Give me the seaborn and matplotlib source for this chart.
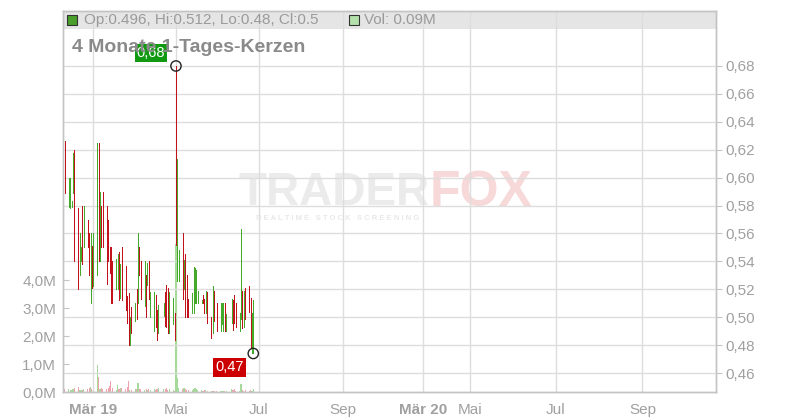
import pandas as pd
import matplotlib.pyplot as plt
import seaborn as sns
from matplotlib.patches import Rectangle

# Kursdaten (Tageskerzen, Hoch/Tief) und Volumen in Mio.
highs = [0.626, 0.600, 0.600, 0.583, 0.618, 0.620, 0.578, 0.560, 0.550, 0.580,
         0.580, 0.570, 0.560, 0.560, 0.551, 0.560, 0.625, 0.625, 0.590, 0.580,
         0.590, 0.580, 0.570, 0.550, 0.550, 0.540, 0.542, 0.545, 0.547, 0.538,
         0.550, 0.537, 0.515, 0.517, 0.500, 0.507, 0.510, 0.520, 0.560, 0.550,
         0.540, 0.540, 0.530, 0.539, 0.540, 0.518, 0.518, 0.516, 0.505, 0.509,
         0.510, 0.518, 0.523, 0.521, 0.518, 0.514, 0.503, 0.680, 0.613, 0.548,
         0.560, 0.541, 0.545, 0.530, 0.513, 0.517, 0.536, 0.535, 0.534, 0.519,
         0.512, 0.516, 0.513, 0.519, 0.518, 0.500, 0.522, 0.519, 0.510, 0.510,
         0.510, 0.510, 0.510, 0.502, 0.513, 0.512, 0.516, 0.510, 0.503, 0.563,
         0.519, 0.519, 0.521, 0.522, 0.514, 0.503, 0.512]
lows = [0.589, 0.579, 0.578, 0.579, 0.589, 0.540, 0.520, 0.530, 0.540, 0.538,
        0.550, 0.550, 0.530, 0.510, 0.521, 0.522, 0.530, 0.540, 0.540, 0.550,
        0.550, 0.524, 0.540, 0.532, 0.510, 0.510, 0.520, 0.520, 0.512, 0.514,
        0.512, 0.505, 0.496, 0.480, 0.480, 0.489, 0.497, 0.499, 0.510, 0.530,
        0.513, 0.508, 0.500, 0.523, 0.513, 0.500, 0.490, 0.493, 0.484, 0.489,
        0.501, 0.494, 0.493, 0.489, 0.489, 0.495, 0.484, 0.552, 0.526, 0.526,
        0.513, 0.520, 0.500, 0.500, 0.500, 0.503, 0.503, 0.510, 0.510, 0.510,
        0.510, 0.510, 0.503, 0.503, 0.496, 0.485, 0.489, 0.497, 0.490, 0.490,
        0.495, 0.490, 0.490, 0.490, 0.496, 0.491, 0.496, 0.493, 0.490, 0.499,
        0.492, 0.493, 0.499, 0.504, 0.479, 0.474, 0.474]
# g = steigend, r = fallend
richtung = ("rggggrrggr" "grrgrggrgr" "rrrrrrggrg" "rrrrgrgrgr" "rgrgrggrrg"
            "grrrggrrgg" "rgrrrggggg" "grrgrrgrrg" "ggrggrrrgg" "rgrrrgg")
vol_richtung = richtung[:57] + "g" + richtung[58:]
volumen = [0.10, 0.12, 0.07, 0.08, 0.09, 0.16, 0.18, 0.06, 0.06, 0.07,
           0.12, 0.09, 0.14, 0.19, 0.12, 0.05, 0.96, 0.52, 0.12, 0.14,
           0.09, 0.09, 0.14, 0.20, 0.39, 0.14, 0.07, 0.26, 0.09, 0.14,
           0.16, 0.12, 0.19, 0.39, 0.08, 0.07, 0.09, 0.12, 0.31, 0.12,
           0.09, 0.08, 0.12, 0.08, 0.09, 0.07, 0.12, 0.07, 0.12, 0.14,
           0.09, 0.12, 0.14, 0.08, 0.12, 0.07, 0.05, 5.30, 0.49, 0.16,
           0.12, 0.14, 0.09, 0.08, 0.07, 0.07, 0.09, 0.14, 0.09, 0.07,
           0.08, 0.05, 0.06, 0.06, 0.05, 0.04, 0.05, 0.04, 0.05, 0.04,
           0.03, 0.04, 0.03, 0.05, 0.12, 0.06, 0.09, 0.04, 0.05, 0.27,
           0.06, 0.04, 0.08, 0.05, 0.06, 0.04, 0.12]
feiertage = ['2019-04-19', '2019-05-30', '2019-06-10']

# Achsenbeschriftung (Tage ab 1. Maerz 2019)
tick_tage = [0, 61, 122, 184, 243, 278, 341, 405]
tick_labels = ['Mär 19', 'Mai', 'Jul', 'Sep', 'Mär 20', 'Mai', 'Jul', 'Sep']
preis_ticks = [0.46, 0.48, 0.50, 0.52, 0.54, 0.56, 0.58, 0.60, 0.62, 0.64, 0.66, 0.68]
vol_ticks = [0, 1, 2, 3, 4]

daten = pd.bdate_range('2019-02-08', '2019-06-27')
daten = daten[~daten.isin(pd.to_datetime(feiertage))]
df = pd.DataFrame({'datum': daten, 'hoch': highs, 'tief': lows,
                   'dir': list(richtung), 'vol': volumen, 'vdir': list(vol_richtung)})
df['tag'] = (df['datum'] - pd.Timestamp('2019-03-01')).dt.days

sns.set_style('white')
plt.rcParams['font.family'] = ['Liberation Sans', 'DejaVu Sans']

GRUEN, ROT = '#44a829', '#c2121b'
HGRUEN, HROT = '#a6da9b', '#f0a3ae'
GRAU = '#a0a0a0'
RAHMEN = '#c4c4c4'

fig = plt.figure(figsize=(8, 4.2), dpi=100)
ax = fig.add_axes([63 / 800, 28 / 420, 653 / 800, 381 / 420])
ax2 = ax.twinx()

# Volumen (linke Achse)
ax.bar(df['tag'], df['vol'], width=0.9, linewidth=0, edgecolor='none',
       color=[HGRUEN if d == 'g' else HROT for d in df['vdir']], zorder=2)
ax.set_ylim(0, 381 / 27.9)
ax.set_xlim(-22.3, 459.2)
ax.set_yticks(vol_ticks)
ax.set_yticklabels([f'{v:.1f}M'.replace('.', ',') for v in vol_ticks])
ax.set_xticks(tick_tage)
ax.set_xticklabels(tick_labels)
for lab in ax.get_xticklabels():
    if lab.get_text().startswith('Mär'):
        lab.set_fontweight('bold')
ax.tick_params(axis='y', direction='in', length=4, color=RAHMEN, labelcolor=GRAU,
               labelsize=11, pad=5)
ax.tick_params(axis='x', direction='out', length=4, color=RAHMEN, labelcolor=GRAU,
               labelsize=11, pad=4)
ax.grid(axis='x', color='#dddddd', lw=1)
ax.set_axisbelow(True)

# Kopfzeile
ax.add_patch(Rectangle((0, 1 - 18 / 381), 1, 18 / 381, transform=ax.transAxes,
                       facecolor='#e5e5e5', edgecolor='none', lw=0, zorder=0.1))

# Wasserzeichen
ax.text(430 / 800, 1 - 193 / 420, 'TRADER', transform=fig.transFigure, ha='right',
        va='center', fontsize=33, fontweight='bold', color='#ebebeb', zorder=0.2)
ax.text(430 / 800, 1 - 193 / 420, 'FOX', transform=fig.transFigure, ha='left',
        va='center', fontsize=36, fontweight='bold', color='#f7d9d9', zorder=0.2)
ax.text(338 / 800, 1 - 218 / 420, 'R E A L T I M E   S T O C K   S C R E E N I N G',
        transform=fig.transFigure, ha='center', va='center', fontsize=5.5,
        fontweight='bold', color='#e8e8e8', zorder=0.2)

# Kerzen (rechte Achse)
for d, farbe in (('g', GRUEN), ('r', ROT)):
    sub = df[df['dir'] == d]
    ax2.vlines(sub['tag'], sub['tief'], sub['hoch'], color=farbe, lw=0.55,
               antialiased=False, zorder=3)
ax2.set_ylim(0.4464, 0.7194)
ax2.set_yticks(preis_ticks)
ax2.set_yticklabels([f'{p:.2f}'.replace('.', ',') for p in preis_ticks])
ax2.tick_params(axis='y', direction='out', length=4, color=RAHMEN, labelcolor=GRAU,
                labelsize=11, pad=3)
ax2.grid(axis='y', color='#dddddd', lw=1)
ax2.set_axisbelow(True)

for a in (ax, ax2):
    for s in a.spines.values():
        s.set_color(RAHMEN)
        s.set_linewidth(1)

# Markierungen Hoch / Tief
hoch = df.loc[df['hoch'].idxmax()]
tief = df.iloc[-1]
sns.scatterplot(x=[hoch['tag'], tief['tag']], y=[hoch['hoch'], tief['tief']], ax=ax2,
                s=55, facecolor='none', edgecolor='#222222', linewidth=1, zorder=5)
ax2.annotate(f"{hoch['hoch']:.2f}".replace('.', ','), xy=(hoch['tag'], hoch['hoch']),
             xytext=(-18, 9.5), textcoords='offset points', ha='center', va='center',
             color='white', fontsize=10.5, zorder=6,
             bbox=dict(boxstyle='square,pad=0.15', fc='#119911', ec='none'))
ax2.annotate('0,47', xy=(tief['tag'], tief['tief']),
             xytext=(-17, -10), textcoords='offset points', ha='center', va='center',
             color='white', fontsize=10.5, zorder=6,
             bbox=dict(boxstyle='square,pad=0.15', fc='#cc0000', ec='none'))

# Kopfzeilen-Texte
fig.patches.append(Rectangle((67 / 800, 1 - 25 / 420), 10 / 800, 10 / 420,
                             transform=fig.transFigure, facecolor='#4a9e2c',
                             edgecolor='#333333', lw=0.8))
fig.patches.append(Rectangle((349 / 800, 1 - 25 / 420), 10 / 800, 10 / 420,
                             transform=fig.transFigure, facecolor='#b3e0ab',
                             edgecolor='#333333', lw=0.8))
fig.text(84 / 800, 1 - 20 / 420, 'Op:0.496, Hi:0.512, Lo:0.48, Cl:0.5',
         fontsize=11, color='#9a9a9a', va='center')
fig.text(364 / 800, 1 - 20 / 420, 'Vol: 0.09M', fontsize=11, color='#9a9a9a', va='center')
fig.text(72 / 800, 1 - 47 / 420, '4 Monate 1-Tages-Kerzen', fontsize=14,
         fontweight='bold', color='#8a8a8a', va='center')

fig.savefig('out.png', dpi=100)
